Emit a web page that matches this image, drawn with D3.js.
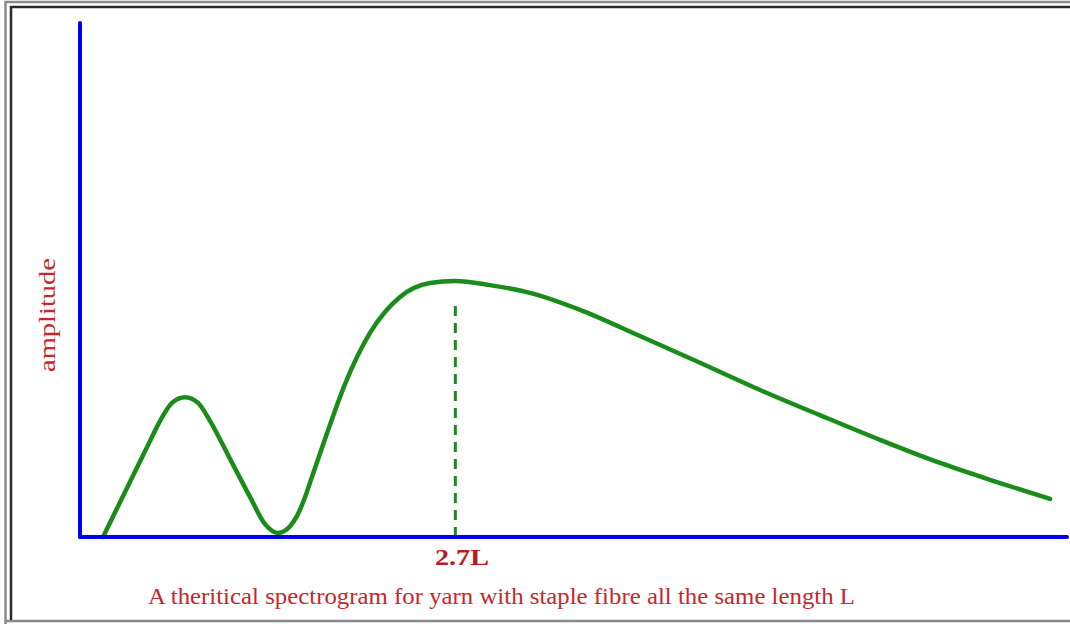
<!DOCTYPE html>
<html>
<head>
<meta charset="utf-8">
<script src="https://cdn.jsdelivr.net/npm/d3@7"></script>
<style>
  body { margin: 0; background: #fff; }
  svg { display: block; }
</style>
</head>
<body>
<div id="chart"></div>
<script>
// spectrogram curve, x in multiples of staple length L, amplitude 0..1
var wavelength = [0.165, 0.345, 0.504, 0.576, 0.662, 0.755, 0.849, 0.935, 1.079, 1.223, 1.331, 1.424, 1.511, 1.561, 1.611, 1.669, 1.763, 1.907, 2.086, 2.302, 2.518, 2.698, 2.949, 3.237, 3.597, 4.028, 4.460, 4.892, 5.323, 5.755, 6.187, 6.618, 6.978];
var amplitude = [0.0, 0.099, 0.187, 0.226, 0.261, 0.272, 0.261, 0.226, 0.152, 0.078, 0.025, 0.008, 0.021, 0.041, 0.072, 0.117, 0.191, 0.298, 0.397, 0.467, 0.494, 0.498, 0.490, 0.475, 0.442, 0.391, 0.339, 0.286, 0.237, 0.189, 0.144, 0.105, 0.074];
var markerX = 2.7;
var markerLabel = "2.7L";
var yLabel = "amplitude";
var caption = "A theritical spectrogram for yarn with staple fibre all the same length L";

var width = 1070, height = 624;
var margin = { top: 23, left: 80, bottom: 87, right: 3 };

var svg = d3.select("#chart").append("svg")
    .attr("width", width)
    .attr("height", height);

// frame
svg.append("path")
    .attr("d", "M5.5,624 V2 H1070 M5.5,621 H1070")
    .attr("fill", "none")
    .attr("stroke", "#8a8a8a")
    .attr("stroke-width", 2.5);
svg.append("path")
    .attr("d", "M11,620 V7 H1070")
    .attr("fill", "none")
    .attr("stroke", "#2a2a2a")
    .attr("stroke-width", 2.5);

var x = d3.scaleLinear()
    .domain([0, 7.1])
    .range([margin.left, width - margin.right]);

var y = d3.scaleLinear()
    .domain([0, 1])
    .range([height - margin.bottom, margin.top]);

var data = wavelength.map(function(d, i) {
    return { x: d, y: amplitude[i] };
});

// the curve
var line = d3.line()
    .x(function(d) { return x(d.x); })
    .y(function(d) { return y(d.y); })
    .curve(d3.curveMonotoneX);

svg.append("path")
    .datum(data)
    .attr("d", line)
    .attr("fill", "none")
    .attr("stroke", "#1a8c1a")
    .attr("stroke-width", 4.5)
    .attr("stroke-linecap", "round")
    .attr("stroke-linejoin", "round");

// dashed marker
svg.append("line")
    .attr("x1", x(markerX))
    .attr("x2", x(markerX))
    .attr("y1", y(0))
    .attr("y2", y(0.455))
    .attr("stroke", "#1a8c1a")
    .attr("stroke-width", 3)
    .attr("stroke-dasharray", "10,7");

// axes
svg.append("line")
    .attr("x1", x(0))
    .attr("x2", x(0))
    .attr("y1", y(0))
    .attr("y2", y(1))
    .attr("stroke", "#0000ee")
    .attr("stroke-width", 4)
    .attr("stroke-linecap", "round");

svg.append("line")
    .attr("x1", x(0))
    .attr("x2", x(7.1))
    .attr("y1", y(0))
    .attr("y2", y(0))
    .attr("stroke", "#0000ee")
    .attr("stroke-width", 4)
    .attr("stroke-linecap", "round");

// texts (the original lettering is stretched, so fix the lengths)
svg.append("text")
    .attr("x", 435)
    .attr("y", y(0) + 28)
    .attr("textLength", 54)
    .attr("lengthAdjust", "spacingAndGlyphs")
    .style("font-family", "'Liberation Serif', serif")
    .style("font-weight", "bold")
    .style("font-size", "24px")
    .style("fill", "#b81c22")
    .text(markerLabel);

svg.append("text")
    .attr("transform", "translate(55,372) rotate(-90)")
    .attr("textLength", 114)
    .attr("lengthAdjust", "spacingAndGlyphs")
    .style("font-family", "'Liberation Serif', serif")
    .style("font-size", "23px")
    .style("fill", "#c8262c")
    .text(yLabel);

svg.append("text")
    .attr("x", 148)
    .attr("y", 604)
    .attr("textLength", 707)
    .attr("lengthAdjust", "spacingAndGlyphs")
    .style("font-family", "'Liberation Serif', serif")
    .style("font-size", "23px")
    .style("fill", "#c8262c")
    .text(caption);
</script>
</body>
</html>
